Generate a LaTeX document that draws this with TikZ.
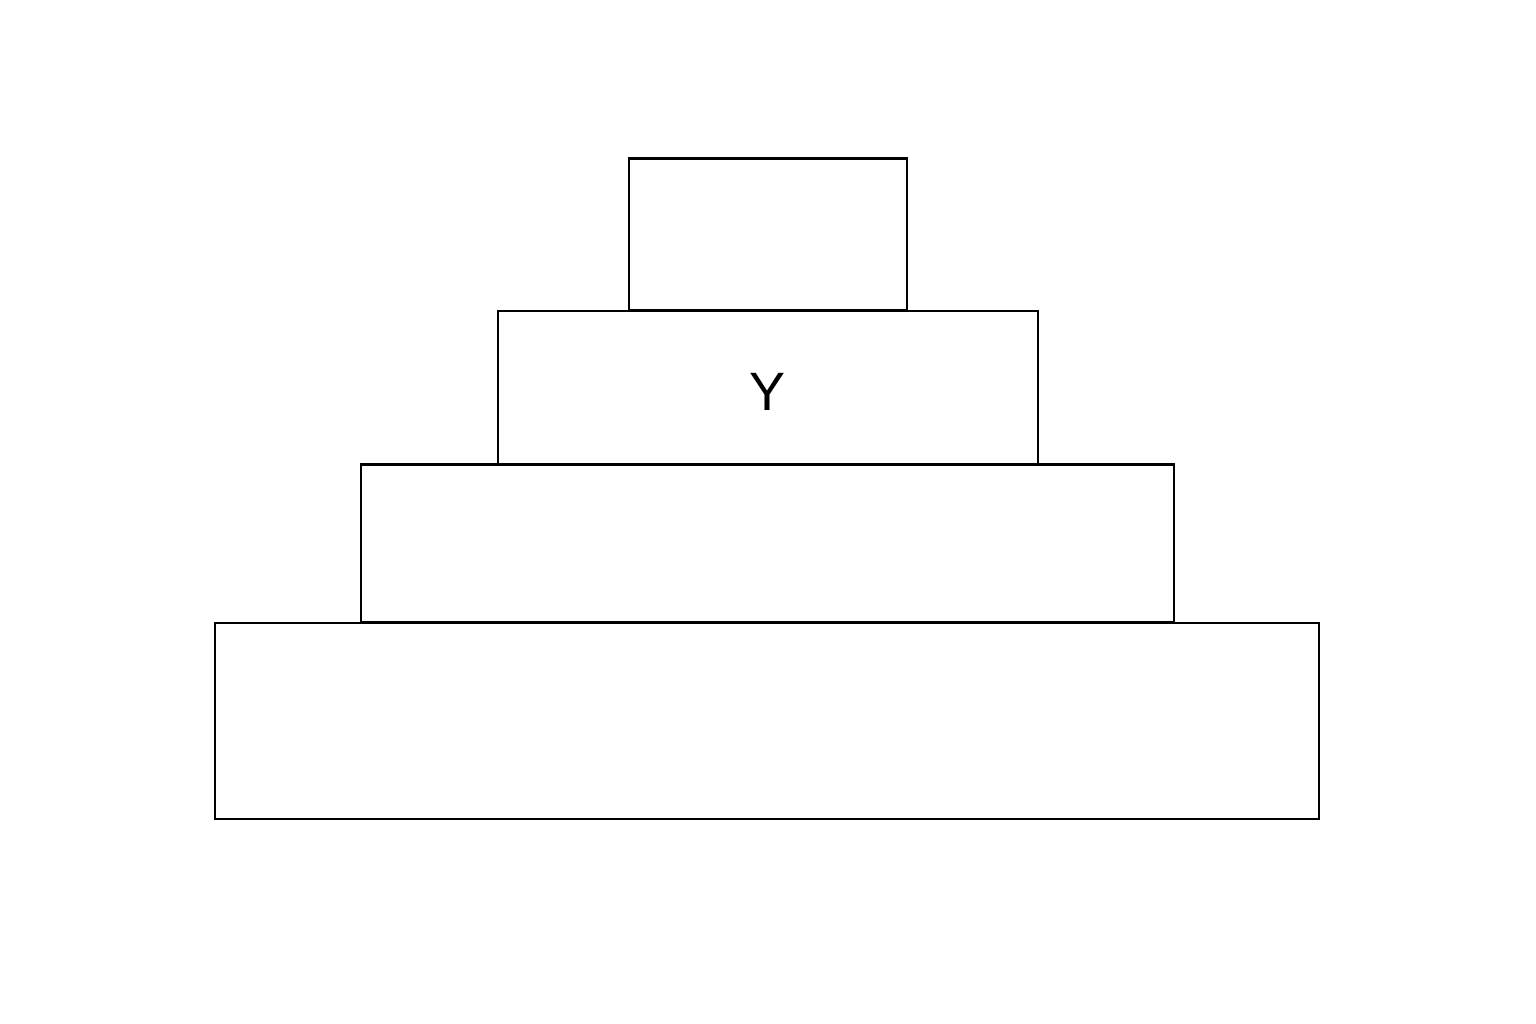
\documentclass[tikz,border=0pt]{standalone}
\usepackage{fontspec}
\setmainfont{Liberation Sans}
\begin{document}
\begin{tikzpicture}[x=1pt,y=-1pt,
  tier/.style={draw=black, line width=2.5pt, fill=white, inner sep=0pt, outer sep=0pt, rectangle}]
\useasboundingbox (0,0) rectangle (1536,1024);
\node[tier, minimum width=1104pt, minimum height=196pt] (t4) at (767,721) {};
\node[tier, minimum width=813pt, minimum height=158pt] (t3) at (767.5,543.5) {};
\node[tier, minimum width=540pt, minimum height=153pt] (t2) at (768,387.5) {};
\node[tier, minimum width=278pt, minimum height=152pt] (t1) at (768,234.5) {};
\node[inner sep=0pt] (ylab) at (767,392) {\fontsize{54}{60}\selectfont Y};
\end{tikzpicture}
\end{document}
